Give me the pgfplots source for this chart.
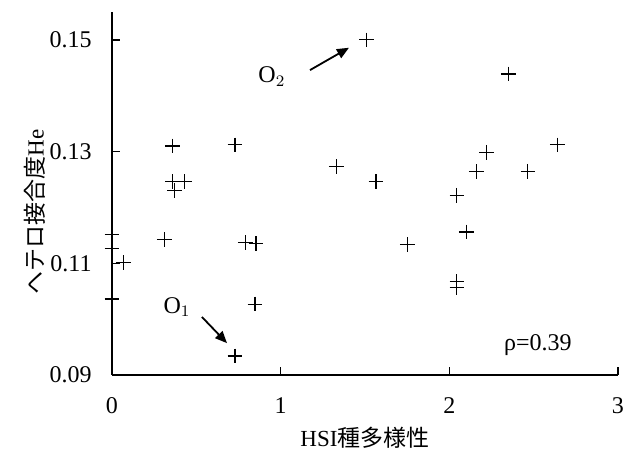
\documentclass[border=0pt]{standalone}
\usepackage{fontspec}
\setmainfont{Liberation Serif}
\newfontfamily\cjk{Noto Sans CJK JP}
\usepackage{pgfplots}
\pgfplotsset{compat=1.18}
\usetikzlibrary{arrows.meta}
\begin{document}
\fontsize{12}{14}\selectfont
\begin{tikzpicture}
\useasboundingbox (-56pt,-45.5pt) rectangle (260.5pt,187.5pt);
\begin{axis}[
  scale only axis,
  width=253pt, height=181.5pt,
  xmin=0, xmax=3, ymin=0.09, ymax=0.155,
  axis x line=bottom, axis y line=left,
  axis line style={-, line width=0.9pt},
  xtick={0,1,2,3}, ytick={0.09,0.11,0.13,0.15},
  yticklabel style={/pgf/number format/fixed, /pgf/number format/fixed zerofill, /pgf/number format/precision=2, xshift=-6pt},
  xticklabel style={yshift=-7pt},
  /pgf/number format/assume math mode=true,
  tick align=inside,
  major tick length=4pt,
  tick style={line width=0.7pt, black},
  ticklabel style={font=\fontsize{12}{14}\selectfont},
  xlabel={HSI{\cjk 種多様性}},
  ylabel={{\cjk ヘテロ接合度}He},
  xlabel style={at={(axis description cs:0.5,0)}, anchor=center, yshift=-31.5pt},
  ylabel style={at={(axis description cs:0,0.45)}, anchor=center, yshift=38.5pt, rotate=0},
  label style={font=\fontsize{11.5}{14}\selectfont},
  clip=false,
]
\addplot[only marks, mark=+, mark size=3.7pt, mark options={line width=0.55pt}] coordinates {
(1.51,0.150) (2.35,0.1439)
(0.36,0.1310) (0.729,0.1312) (2.64,0.1312) (2.22,0.1299)
(1.33,0.1273) (2.16,0.1264) (2.466,0.1265) (1.565,0.1246)
(0.36,0.1246) (0.43,0.1246) (0.37,0.1231) (2.045,0.1222)
(2.10,0.1156) (0.0,0.1151) (0.31,0.1142) (0.79,0.1137) (0.854,0.1135)
(1.75,0.1133) (0.0,0.1127) (0.066,0.1101)
(2.045,0.1067) (2.045,0.1056) (0.0,0.1036) (0.848,0.1027) (0.729,0.0934)
};
\draw[line width=0.9pt, -{Triangle[length=6pt,width=5pt]}] (axis cs:1.174,0.1446) -- (axis cs:1.405,0.1486);
\draw[line width=0.9pt, -{Triangle[length=6pt,width=5pt]}] (axis cs:0.533,0.1004) -- (axis cs:0.682,0.0957);
\node at (axis cs:0.948,0.1434) {O$_2$};
\node at (axis cs:0.385,0.1022) {O$_1$};
\node at (axis cs:2.525,0.0954) {ρ=0.39};
\end{axis}
\end{tikzpicture}
\end{document}
